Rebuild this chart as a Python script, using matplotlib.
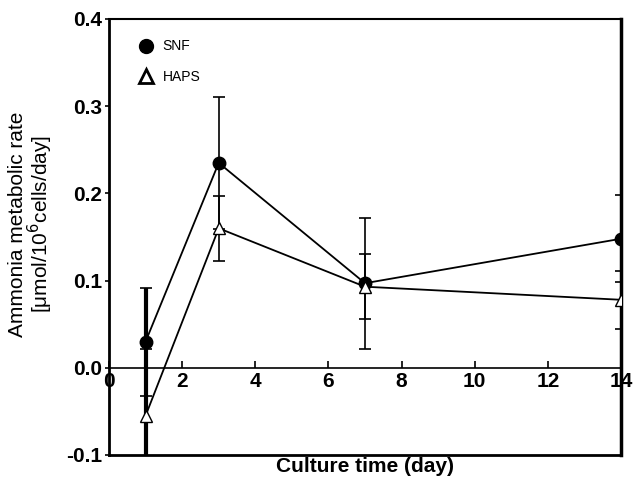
import numpy as np
import matplotlib.pyplot as plt

plt.rcParams['font.family'] = ['Liberation Sans', 'DejaVu Sans']

days = [1, 3, 7, 14]
snf_y = [0.030, 0.235, 0.097, 0.148]
snf_err = [0.062, 0.076, 0.075, 0.050]
haps_y = [-0.055, 0.160, 0.093, 0.078]
haps_err = [0.077, 0.037, 0.037, 0.033]

fig = plt.figure(figsize=(6.36, 4.83), dpi=100)
ax = fig.add_axes([109/636, 1 - 455/483, 512/636, 436/483])

# SNF
ax.errorbar(days, snf_y, yerr=snf_err, fmt='none', ecolor='black', elinewidth=1.2, capsize=4, capthick=1.2)
# day 1 bar is drawn heavy and runs off the bottom
ax.vlines(days[0], -0.12, snf_y[0] + snf_err[0], color='black', lw=3)
ax.plot(days, snf_y, color='black', lw=1.3, marker='o', markersize=9,
        markerfacecolor='black', markeredgecolor='black', zorder=3)
# HAPS
ax.errorbar(days, haps_y, yerr=haps_err, fmt='none', ecolor='black', elinewidth=1.2, capsize=4, capthick=1.2)
ax.plot(days, haps_y, color='black', lw=1.3, marker='^', markersize=8,
        markerfacecolor='white', markeredgecolor='black', zorder=3)

# legend handles: markers only, a bit heavier than the data markers
ax.plot([], [], ls='none', marker='o', markersize=10, color='black', label='SNF')
ax.plot([], [], ls='none', marker='^', markersize=10, markeredgewidth=2,
        markerfacecolor='white', markeredgecolor='black', label='HAPS')

ax.set_xlim(0, 14)
ax.set_ylim(-0.1, 0.4)
ax.set_xticks(np.arange(0, 15, 2))
ax.set_yticks([-0.1, 0.0, 0.1, 0.2, 0.3, 0.4])
ax.set_yticklabels(['-0.1', '0.0', '0.1', '0.2', '0.3', '0.4'])

ax.spines['bottom'].set_position(('data', 0))
ax.spines['bottom'].set_linewidth(1.2)
ax.spines['left'].set_linewidth(2)
ax.spines['right'].set_linewidth(2.5)
ax.spines['top'].set_linewidth(1.5)
ax.axhline(-0.1, color='black', lw=2, clip_on=False)

ax.tick_params(axis='x', direction='in', length=5, width=1.2, pad=3, labelsize=15)
ax.tick_params(axis='y', direction='out', length=3, width=1.2, pad=2, labelsize=15)
for lab in ax.get_xticklabels() + ax.get_yticklabels():
    lab.set_fontweight('bold')

ax.set_xlabel('Culture time (day)', fontsize=15, fontweight='bold')
ax.xaxis.set_label_coords(0.5, -0.005)
ax.set_ylabel('Ammonia metabolic rate\n[μmol/10$^6$cells/day]', fontsize=15, linespacing=0.95)
ax.yaxis.set_label_coords(-0.105, 0.53)

ax.legend(loc='upper left', frameon=False, fontsize=10, handlelength=0,
          handletextpad=1.2, labelspacing=1.2, borderaxespad=0.6,
          bbox_to_anchor=(0.045, 0.985))

fig.savefig('out.png', dpi=100)
